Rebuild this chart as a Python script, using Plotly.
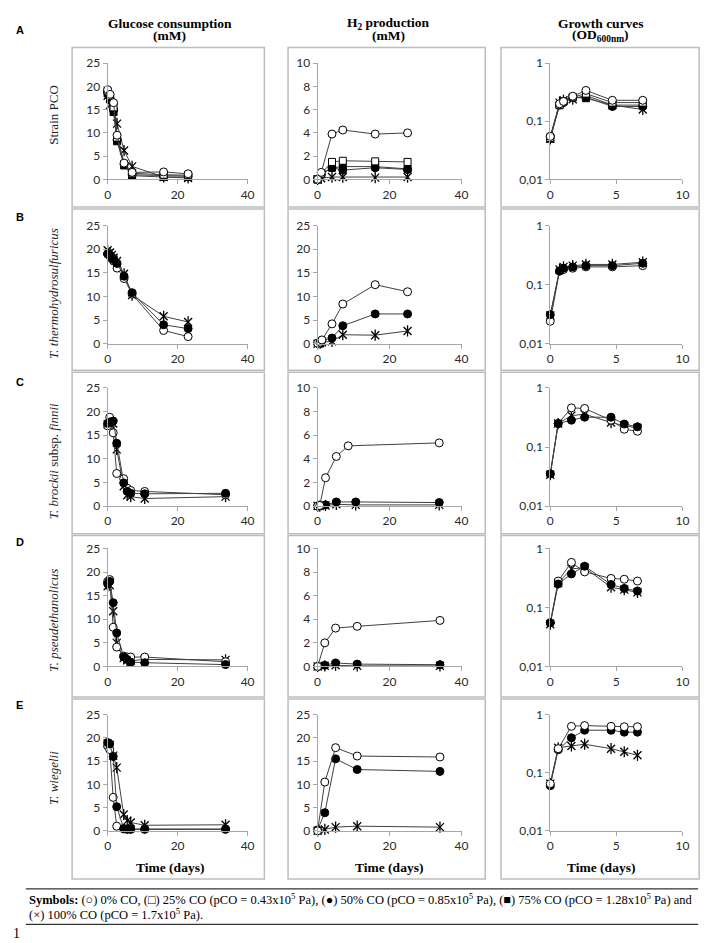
import plotly.graph_objects as go

W, H = 708, 943

# ---------------- Data ----------------
# Row A : Strain PCO
A_glc_t = [0, 0.7, 1.7, 2.7, 4.7, 7, 16, 23]
A_glc_0 = [19.3, 18.3, 16.5, 9.5, 3.5, 1.5, 1.6, 1.2]
A_glc_25 = [19.0, 18.0, 15.5, 9.0, 3.3, 1.3, 1.0, 0.9]
A_glc_50 = [18.8, 17.5, 15.0, 8.5, 3.2, 1.0, 0.8, 0.7]
A_glc_75 = [18.5, 17.2, 14.5, 8.2, 3.0, 0.8, 0.5, 0.5]
A_glc_100 = [18.0, 16.0, 15.5, 12.0, 6.2, 2.8, 0.5, 0.3]
A_h2_t = [0, 1, 4, 7, 16, 25]
A_h2_0 = [0, 0.6, 3.9, 4.25, 3.9, 4.0]
A_h2_25 = [0, 0.5, 1.5, 1.6, 1.55, 1.5]
A_h2_50 = [0, 0.4, 1.0, 0.8, 1.0, 0.85]
A_h2_75 = [0, 0.5, 1.0, 1.1, 1.1, 0.9]
A_h2_100 = [0, 0.1, 0.2, 0.2, 0.15, 0.2]
A_od_t = [0, 0.7, 1.0, 1.7, 2.7, 4.7, 7]
A_od_0 = [0.055, 0.20, 0.22, 0.27, 0.34, 0.23, 0.23]
A_od_25 = [0.052, 0.19, 0.22, 0.26, 0.30, 0.21, 0.21]
A_od_50 = [0.055, 0.19, 0.21, 0.26, 0.26, 0.18, 0.18]
A_od_75 = [0.050, 0.19, 0.22, 0.26, 0.25, 0.19, 0.19]
A_od_100 = [0.050, 0.21, 0.23, 0.24, 0.28, 0.19, 0.16]

# Row B : T. thermohydrosulfuricus
B_glc_t = [0, 0.7, 1.2, 1.7, 2.7, 4.7, 7, 16, 23]
B_glc_0 = [19.0, 18.5, 18.0, 17.5, 16.0, 13.8, 10.5, 2.8, 1.5]
B_glc_50 = [19.0, 18.7, 18.3, 17.8, 17.0, 14.3, 10.8, 4.0, 3.2]
B_glc_100 = [19.8, 19.3, 18.8, 18.2, 17.5, 14.8, 10.3, 5.8, 4.6]
B_h2_t = [0, 0.7, 1.2, 4, 7, 16, 25]
B_h2_0 = [0.1, 0.3, 0.8, 4.2, 8.4, 12.5, 11.0]
B_h2_50 = [0.1, 0.2, 0.7, 1.2, 3.8, 6.3, 6.3]
B_h2_100 = [0, 0.1, 0.3, 0.5, 1.9, 1.8, 2.7]
B_od_t = [0, 0.7, 1.0, 1.7, 2.7, 4.7, 7]
B_od_0 = [0.024, 0.17, 0.18, 0.19, 0.20, 0.20, 0.21]
B_od_50 = [0.031, 0.17, 0.19, 0.20, 0.21, 0.21, 0.23]
B_od_100 = [0.030, 0.18, 0.20, 0.21, 0.22, 0.22, 0.24]

# Row C : T. brockii subsp. finnii
C_glc_t = [0, 0.6, 1.6, 2.6, 4.6, 5.6, 6.6, 10.6, 33.7]
C_glc_0 = [17.0, 18.8, 15.5, 6.9, 5.8, 3.8, 3.3, 3.1, 2.4]
C_glc_50 = [17.5, 17.8, 18.0, 13.3, 4.9, 3.1, 2.7, 2.6, 2.7]
C_glc_100 = [17.3, 17.5, 17.5, 12.0, 4.2, 2.3, 2.0, 1.6, 2.0]
C_h2_t0 = [0, 0.6, 2.2, 5.2, 8.5, 33.8]
C_h2_t = [0, 0.6, 2.2, 5.2, 10.6, 33.8]
C_h2_0 = [0, 0.05, 2.4, 4.2, 5.1, 5.35]
C_h2_50 = [0, 0.05, 0.1, 0.35, 0.35, 0.3]
C_h2_100 = [0, 0, 0.05, 0.15, 0.1, 0.1]
C_od_t = [0, 0.6, 1.6, 2.6, 4.6, 5.6, 6.6]
C_od_0 = [0.035, 0.25, 0.46, 0.45, 0.285, 0.20, 0.185]
C_od_50 = [0.035, 0.25, 0.285, 0.32, 0.32, 0.245, 0.22]
C_od_100 = [0.034, 0.25, 0.34, 0.36, 0.26, 0.23, 0.21]

# Row D : T. pseudethanolicus
D_glc_t = [0, 0.6, 1.6, 2.6, 4.6, 5.6, 6.6, 10.6, 33.7]
D_glc_0 = [18.0, 18.4, 8.3, 4.1, 2.2, 2.0, 2.0, 2.0, 1.0]
D_glc_50 = [17.5, 18.0, 13.5, 7.1, 2.0, 1.5, 0.9, 0.8, 0.4]
D_glc_100 = [17.0, 17.2, 11.7, 5.0, 1.8, 1.3, 1.2, 1.5, 1.4]
D_h2_t = [0, 2, 5, 11, 34]
D_h2_0 = [0, 2.0, 3.25, 3.4, 3.9]
D_h2_50 = [0, 0.1, 0.3, 0.2, 0.15]
D_h2_100 = [0, 0.05, 0.1, 0.05, 0.05]
D_od_t = [0, 0.6, 1.6, 2.6, 4.6, 5.6, 6.6]
D_od_0 = [0.055, 0.28, 0.58, 0.40, 0.31, 0.30, 0.28]
D_od_50 = [0.055, 0.25, 0.37, 0.50, 0.245, 0.21, 0.19]
D_od_100 = [0.052, 0.26, 0.45, 0.47, 0.22, 0.20, 0.18]

# Row E : T. wiegelii
E_glc_t = [0, 0.6, 1.6, 2.6, 4.6, 5.6, 6.6, 10.6, 33.7]
E_glc_0 = [18.3, 17.5, 7.2, 1.0, 0.4, 0.3, 0.3, 0.3, 0.3]
E_glc_50 = [19.0, 18.7, 16.0, 5.2, 0.5, 0.4, 0.4, 0.4, 0.4]
E_glc_100 = [18.8, 18.5, 16.2, 13.6, 3.5, 2.2, 1.8, 1.2, 1.3]
E_h2_t = [0, 2, 5, 11, 34]
E_h2_0 = [0, 10.5, 17.9, 16.1, 15.9]
E_h2_50 = [0.2, 3.9, 15.5, 13.2, 12.8]
E_h2_100 = [0, 0.3, 0.8, 1.0, 0.8]
E_od_t = [0, 0.6, 1.6, 2.6, 4.6, 5.6, 6.6]
E_od_0 = [0.065, 0.26, 0.63, 0.65, 0.63, 0.62, 0.62]
E_od_50 = [0.060, 0.25, 0.40, 0.54, 0.54, 0.50, 0.50]
E_od_100 = [0.065, 0.27, 0.29, 0.31, 0.26, 0.23, 0.20]

col_titles_1 = ["<b>Glucose consumption</b>", "<b>H<sub>2</sub> production</b>",
                "<b>Growth curves</b>"]
col_titles_2 = ["<b>(mM)</b>", "<b>(mM)</b>", "<b>(OD<sub>600nm</sub>)</b>"]
row_letters = ["A", "B", "C", "D", "E"]
row_names = ["Strain PCO", "<i>T. thermohydrosulfuricus</i>",
             "<i>T. brockii</i> subsp. <i>finnii</i>",
             "<i>T. pseudethanolicus</i>", "<i>T. wiegelii</i>"]
x_label = "<b>Time (days)</b>"
footer_1 = ("<b>Symbols:</b> (○) 0% CO, (□) 25% CO (pCO = 0.43x10<sup>5</sup> Pa), "
            "(●) 50% CO (pCO = 0.85x10<sup>5</sup> Pa), (■) 75% CO (pCO = 1.28x10<sup>5</sup> Pa) and")
footer_2 = "(×) 100% CO (pCO = 1.7x10<sup>5</sup> Pa)."

# panels: (row, col) -> list of (series_key, t, y)
panels = {
    (0, 0): [("100", A_glc_t, A_glc_100), ("75", A_glc_t, A_glc_75), ("50", A_glc_t, A_glc_50),
             ("25", A_glc_t, A_glc_25), ("0", A_glc_t, A_glc_0)],
    (0, 1): [("100", A_h2_t, A_h2_100), ("75", A_h2_t, A_h2_75), ("50", A_h2_t, A_h2_50),
             ("25", A_h2_t, A_h2_25), ("0", A_h2_t, A_h2_0)],
    (0, 2): [("100", A_od_t, A_od_100), ("75", A_od_t, A_od_75), ("50", A_od_t, A_od_50),
             ("25", A_od_t, A_od_25), ("0", A_od_t, A_od_0)],
    (1, 0): [("100", B_glc_t, B_glc_100), ("0", B_glc_t, B_glc_0), ("50", B_glc_t, B_glc_50)],
    (1, 1): [("100", B_h2_t, B_h2_100), ("50", B_h2_t, B_h2_50), ("0", B_h2_t, B_h2_0)],
    (1, 2): [("100", B_od_t, B_od_100), ("0", B_od_t, B_od_0), ("50", B_od_t, B_od_50)],
    (2, 0): [("100", C_glc_t, C_glc_100), ("0", C_glc_t, C_glc_0), ("50", C_glc_t, C_glc_50)],
    (2, 1): [("100", C_h2_t, C_h2_100), ("50", C_h2_t, C_h2_50), ("0", C_h2_t0, C_h2_0)],
    (2, 2): [("100", C_od_t, C_od_100), ("0", C_od_t, C_od_0), ("50", C_od_t, C_od_50)],
    (3, 0): [("100", D_glc_t, D_glc_100), ("0", D_glc_t, D_glc_0), ("50", D_glc_t, D_glc_50)],
    (3, 1): [("100", D_h2_t, D_h2_100), ("50", D_h2_t, D_h2_50), ("0", D_h2_t, D_h2_0)],
    (3, 2): [("100", D_od_t, D_od_100), ("0", D_od_t, D_od_0), ("50", D_od_t, D_od_50)],
    (4, 0): [("100", E_glc_t, E_glc_100), ("0", E_glc_t, E_glc_0), ("50", E_glc_t, E_glc_50)],
    (4, 1): [("100", E_h2_t, E_h2_100), ("50", E_h2_t, E_h2_50), ("0", E_h2_t, E_h2_0)],
    (4, 2): [("100", E_od_t, E_od_100), ("50", E_od_t, E_od_50), ("0", E_od_t, E_od_0)],
}
h2_max = [10, 25, 10, 10, 25]

# ---------------- Layout geometry (pixels) ----------------
col_x = [(98, 240), (311, 457), (547, 681)]
row_y = [(48, 166), (213, 333), (378, 498), (541, 661), (710, 828)]
col_box = [(62, 257), (281, 481), (497, 698)]
row_box = [(32, 194), (196, 360), (362, 526), (528, 692), (694, 877)]
col_center = [161, 383, 598]
row_label_y = [100, 282, 452, 614, 774]
row_letter_y = [14, 204, 372, 535, 700]

def px(x):
    return x / W

def py(y):
    return 1 - y / H

LINE = "#404040"
AX = "#a6a6a6"

marker_styles = {
    "0": dict(symbol="circle", size=8, color="white", line=dict(color="black", width=1)),
    "25": dict(symbol="square", size=7, color="white", line=dict(color="black", width=1)),
    "50": dict(symbol="circle", size=8, color="black", line=dict(color="black", width=1)),
    "75": dict(symbol="square", size=7, color="black", line=dict(color="black", width=1)),
    "100": dict(symbol="x-thin-open", size=8, color="black", line=dict(color="black", width=1.3)),
}

fig = go.Figure()
layout = dict(width=W, height=H, margin=dict(l=0, r=0, t=0, b=0),
              paper_bgcolor="white", plot_bgcolor="rgba(0,0,0,0)", showlegend=False,
              font=dict(family="Lato, 'Open Sans', sans-serif", size=12, color="#333333"))

shapes = []
annotations = []

for r in range(5):
    for c in range(3):
        k = r * 3 + c + 1
        xa = "x" if k == 1 else f"x{k}"
        ya = "y" if k == 1 else f"y{k}"
        xkey = "xaxis" if k == 1 else f"xaxis{k}"
        ykey = "yaxis" if k == 1 else f"yaxis{k}"
        x0, x1 = col_x[c]
        yt, yb = row_y[r]
        common = dict(showline=True, linecolor=AX, linewidth=1, ticks="outside", ticklen=4,
                      tickcolor=AX, tickwidth=1, showgrid=False, zeroline=False, fixedrange=True,
                      tickfont=dict(family="Lato, sans-serif", size=12, color="#2a2a2a"))
        if c < 2:
            layout[xkey] = dict(domain=[px(x0), px(x1)], range=[0, 40], tickvals=[0, 20, 40],
                                anchor=ya, **common)
        else:
            layout[xkey] = dict(domain=[px(x0), px(x1)], range=[0, 10], tickvals=[0, 5, 10],
                                anchor=ya, **common)
        if c == 0:
            layout[ykey] = dict(domain=[py(yb), py(yt)], range=[0, 25], dtick=5, tick0=0,
                                anchor=xa, **common)
        elif c == 1:
            m = h2_max[r]
            layout[ykey] = dict(domain=[py(yb), py(yt)], range=[0, m], dtick=m / 5, tick0=0,
                                anchor=xa, **common)
        else:
            layout[ykey] = dict(domain=[py(yb), py(yt)], type="log", range=[-2, 0],
                                tickvals=[0.01, 0.1, 1], ticktext=["0,01", "0,1", "1"],
                                anchor=xa, **common)
        for key, t, y in panels[(r, c)]:
            fig.add_trace(go.Scatter(x=t, y=y, xaxis=xa, yaxis=ya, mode="lines+markers",
                                     line=dict(color=LINE, width=1),
                                     marker=marker_styles[key], cliponaxis=False,
                                     hoverinfo="skip"))
            if key == "100":
                fig.add_trace(go.Scatter(x=t, y=y, xaxis=xa, yaxis=ya, mode="markers",
                                         marker=dict(symbol="line-ns-open", size=8, color="black",
                                                     line=dict(color="black", width=1.3)),
                                         cliponaxis=False, hoverinfo="skip"))
        # panel frame
        bx0, bx1 = col_box[c]
        by0, by1 = row_box[r]
        shapes.append(dict(type="rect", xref="paper", yref="paper",
                           x0=px(bx0), x1=px(bx1), y0=py(by1), y1=py(by0),
                           line=dict(color="#bdbdbd", width=1.5), fillcolor="rgba(0,0,0,0)"))

SERIF = "'Liberation Serif', 'Times New Roman', serif"

for c in range(3):
    annotations.append(dict(x=px(col_center[c]), y=py(8), xref="paper", yref="paper",
                            text=col_titles_1[c], showarrow=False, xanchor="center",
                            yanchor="middle", borderpad=0,
                            font=dict(family=SERIF, size=13.5, color="black")))
    annotations.append(dict(x=px(col_center[c]), y=py(20), xref="paper", yref="paper",
                            text=col_titles_2[c], showarrow=False, xanchor="center",
                            yanchor="middle", borderpad=0,
                            font=dict(family=SERIF, size=13.5, color="black")))
    annotations.append(dict(x=px(col_center[c]), y=py(865), xref="paper", yref="paper",
                            text=x_label, showarrow=False, xanchor="center", yanchor="middle",
                            font=dict(family=SERIF, size=13.5, color="black")))

for r in range(5):
    annotations.append(dict(x=px(9), y=py(row_letter_y[r]), xref="paper", yref="paper",
                            text=f"<b>{row_letters[r]}</b>", showarrow=False,
                            xanchor="center", yanchor="middle",
                            font=dict(family="'Liberation Sans', Arial, sans-serif", size=11,
                                      color="black")))
    annotations.append(dict(x=px(43), y=py(row_label_y[r]), xref="paper", yref="paper",
                            text=row_names[r], showarrow=False, textangle=-90,
                            xanchor="center", yanchor="middle",
                            font=dict(family=SERIF, size=13, color="#222222")))

annotations.append(dict(x=px(16), y=py(897), xref="paper", yref="paper", text=footer_1,
                        showarrow=False, xanchor="left", yanchor="middle",
                        font=dict(family=SERIF, size=12.5, color="black")))
annotations.append(dict(x=px(16), y=py(913), xref="paper", yref="paper", text=footer_2,
                        showarrow=False, xanchor="left", yanchor="middle",
                        font=dict(family=SERIF, size=12.5, color="black")))
annotations.append(dict(x=px(6), y=py(932), xref="paper", yref="paper", text="1",
                        showarrow=False, xanchor="center", yanchor="middle",
                        font=dict(family=SERIF, size=14, color="black")))

for yy in (887, 923):
    shapes.append(dict(type="line", xref="paper", yref="paper", x0=px(15), x1=px(697),
                       y0=py(yy), y1=py(yy), line=dict(color="black", width=1)))

layout["shapes"] = shapes
layout["annotations"] = annotations
fig.update_layout(**layout)
fig.write_html("out.html")
